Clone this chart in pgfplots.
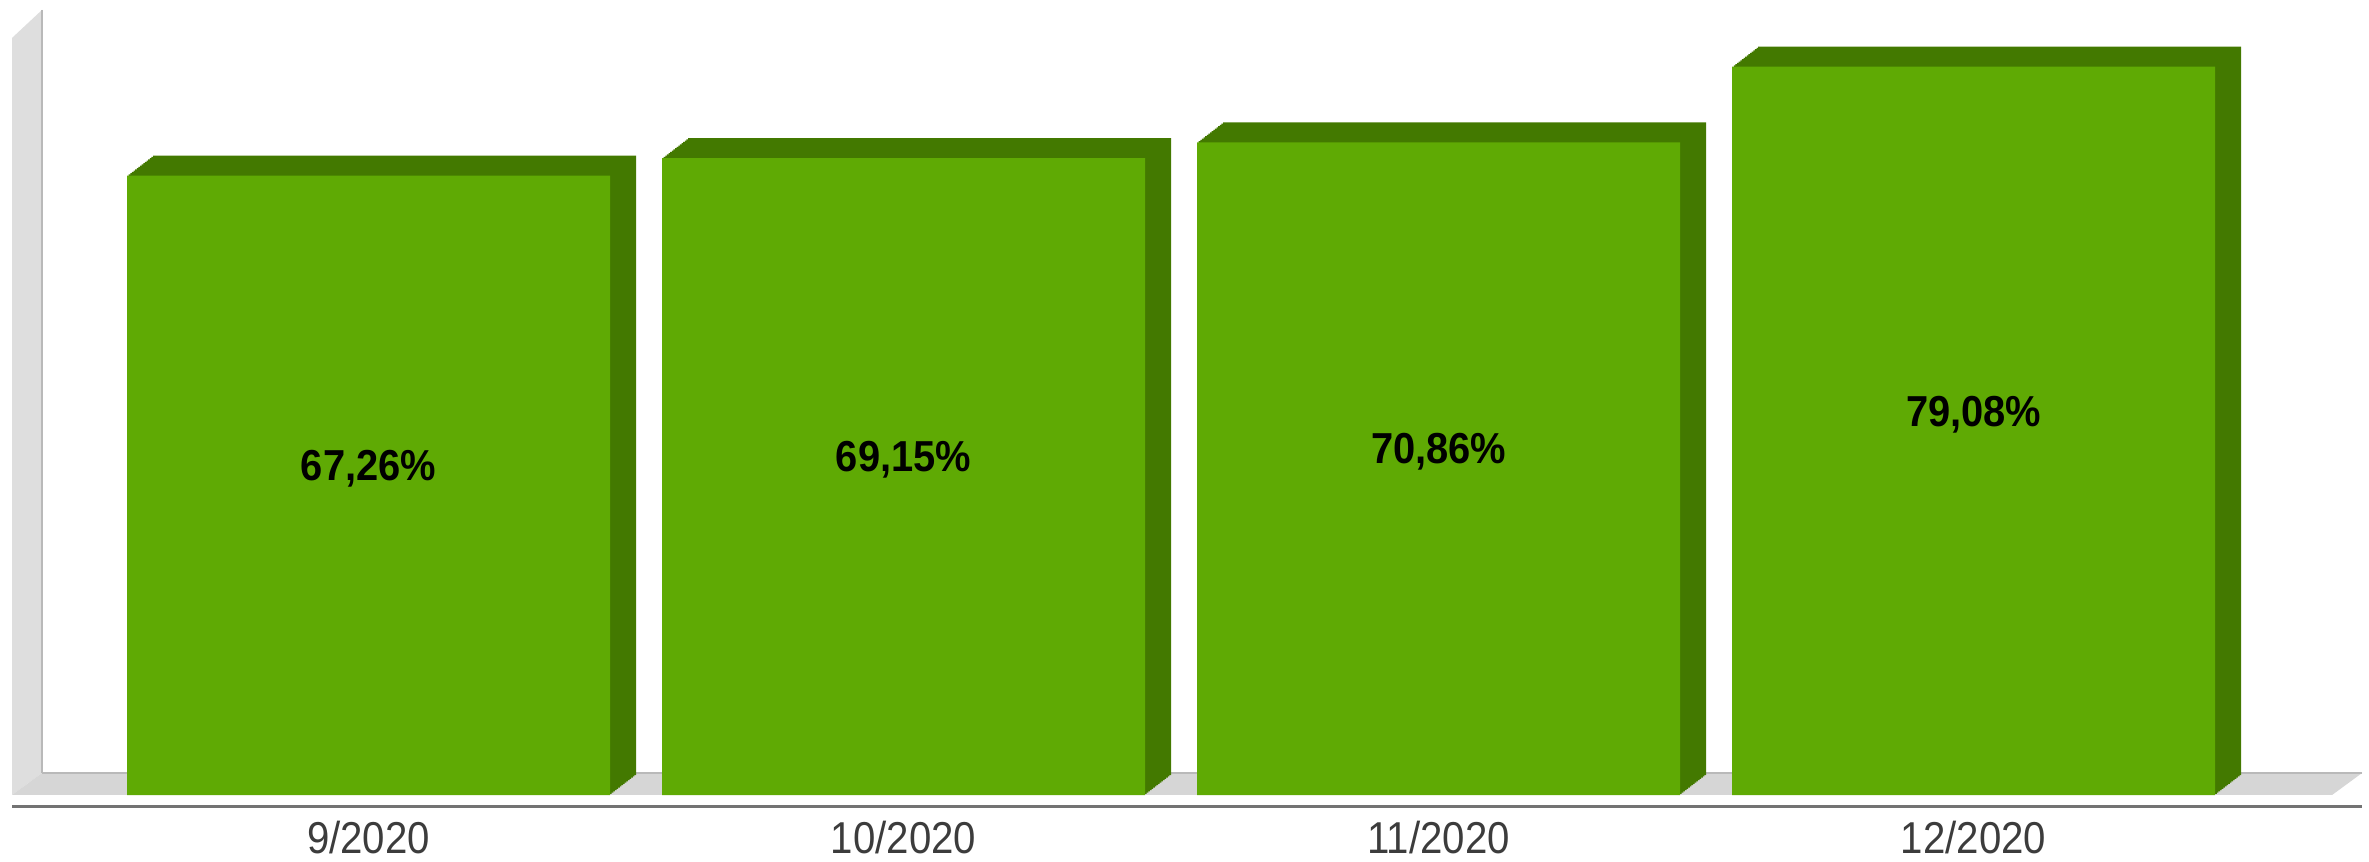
\documentclass[border=0pt]{standalone}
\usepackage{fontspec}
\setmainfont{Liberation Sans}
\newfontfamily\catfont[FakeStretch=0.9]{Liberation Sans}
\newfontfamily\valfont[FakeStretch=0.92]{Liberation Sans}
\usepackage{pgfplots}
\usepackage{pgfplotstable}
\pgfplotsset{compat=1.18}

\definecolor{barfront}{RGB}{95,170,4}
\definecolor{barside}{RGB}{67,121,0}
\definecolor{wallgray}{RGB}{222,222,222}
\definecolor{floorgray}{RGB}{214,214,214}
\definecolor{edgegray}{RGB}{185,185,185}
\definecolor{labelgray}{RGB}{60,60,60}

% month, value, label
\pgfplotstableread{
x y label
0 67.26 67,26\%
1 69.15 69,15\%
2 70.86 70,86\%
3 79.08 79,08\%
}\datatable

\begin{document}
\begin{tikzpicture}
\path[use as bounding box] (0,0) rectangle (710.7pt,258.6pt);

% back wall, floor and base line (pixel grid of the reference, 0.3pt per px)
\begin{scope}[shift={(0,258.6pt)}, x=0.3pt, y=-0.3pt]
  \fill[wallgray] (12,38) -- (42,10) -- (42,773) -- (12,795) -- cycle;
  \draw[edgegray, line width=0.5pt] (42,10) -- (42,773);
  \fill[floorgray] (12,795) -- (42,773) -- (2362,773) -- (2332,795) -- cycle;
  \draw[edgegray, line width=0.5pt] (42,773) -- (2362,773);
  \draw[gray!90!black, line width=0.9pt] (12,806) -- (2362,806);
\end{scope}

\begin{axis}[
    at={(0,0)}, anchor=south west,
    scale only axis,
    width=710.7pt, height=258.6pt,
    xmin=-0.6888, xmax=3.739,
    ymin=-7.27, ymax=86.32,
    clip=false,
    axis line style={draw=none},
    tick style={draw=none},
    ytick=\empty,
    xtick={0,1,2,3},
    xticklabels={9/2020,10/2020,11/2020,12/2020},
    xticklabel style={anchor=base, yshift=2.4pt, font=\catfont\fontsize{13.4}{16}\selectfont, text=labelgray},
]

% depth of the bars: stacked shifted copies
\pgfplotsinvokeforeach{1,...,16}{
  \addplot[ybar, bar width=144.9pt, fill=barside, draw=none,
           xshift=#1*0.4875pt, yshift=#1*0.375pt]
    table[x=x, y=y] {\datatable};
}

% front faces
\addplot[ybar, bar width=144.9pt, fill=barfront, draw=none]
  table[x=x, y=y] {\datatable};

% value labels in the middle of each bar
\addplot[only marks, mark=none,
         y filter/.expression={y/2+1.8},
         point meta=explicit symbolic,
         nodes near coords,
         nodes near coords style={anchor=center, font=\valfont\bfseries\fontsize{13}{15}\selectfont, text=black}]
  table[x=x, y=y, meta=label] {\datatable};

\end{axis}
\end{tikzpicture}
\end{document}
